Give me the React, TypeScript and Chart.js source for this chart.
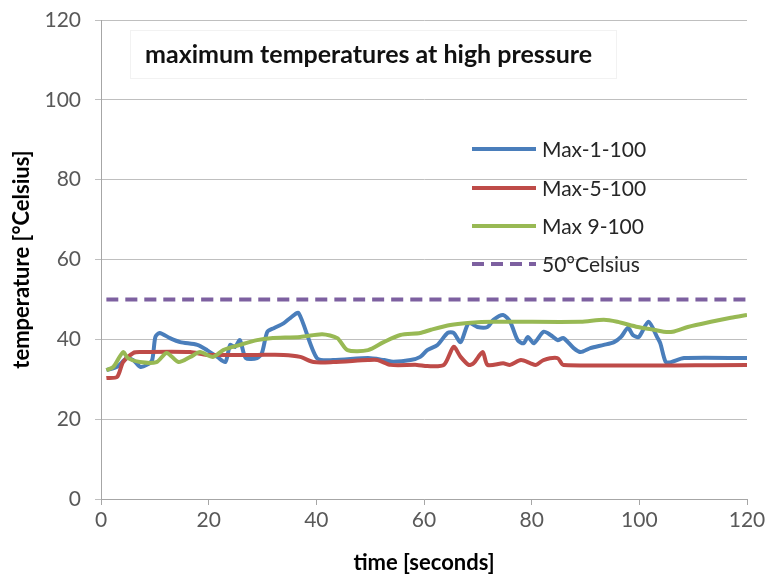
import React, { useEffect, useRef } from "react";
import { Chart, registerables } from "chart.js";

Chart.register(...registerables);

const chartTitle = "maximum temperatures at high pressure";
const xAxisTitle = "time [seconds]";
const yAxisTitle = "temperature [°Celsius]";

const seriesNames = ["Max-1-100", "Max-5-100", "Max 9-100", "50°Celsius"];
const seriesColors = ["#4A7EBB", "#BE4B48", "#98B954", "#7D60A0"];

const max1Time = [1, 3, 4.8, 6, 7.3, 8.5, 9.5, 10.1, 10.9, 12.8, 14.7, 17.9, 19.7, 21.6, 23.1, 24, 24.9, 25.8, 26.9, 29, 29.9, 30.9, 32.1, 33.9, 35.2, 36.7, 40.1, 43.1, 49.6, 52.6, 54.3, 57.5, 59.3, 60.6, 62.5, 64.4, 65.5, 66.8, 68.3, 69.9, 71.8, 72.9, 74.7, 76, 77.4, 78.5, 79.3, 80.4, 82.2, 83.5, 84.8, 85.9, 87.8, 89.1, 90.9, 93.4, 95.3, 96.6, 97.9, 98.8, 99.9, 101.7, 103.4, 103.9, 104.9, 105.9, 108.3, 120];
const max1Temp = [32.3, 33.1, 35.3, 34.8, 33.1, 33.6, 34.8, 40.6, 41.6, 40.3, 39.3, 38.6, 37.3, 35.6, 34.3, 38.6, 38.1, 39.8, 35.3, 35.3, 36.6, 41.9, 42.8, 44, 45.4, 46.6, 35.3, 34.8, 35.3, 34.8, 34.4, 34.8, 35.6, 37.3, 38.6, 41.6, 41.6, 39.3, 44.1, 43.1, 43.1, 44.9, 46.1, 44.4, 39.8, 39, 40.6, 39, 41.9, 41.1, 39.8, 40.3, 37.8, 36.8, 37.8, 38.6, 39.3, 40.6, 42.9, 41.1, 40.6, 44.4, 40.3, 39, 34.3, 34.3, 35.3, 35.3];

const max5Time = [1, 3, 4.1, 6, 7.3, 16.6, 19.7, 29, 33.9, 37, 39.5, 43.1, 49.6, 51.4, 53.8, 58.7, 60.6, 63.7, 65.5, 66.8, 68.3, 69.2, 70.9, 71.8, 74.7, 76, 78, 79.8, 80.8, 82.2, 84.8, 85.9, 120];
const max5Temp = [30.3, 30.6, 34.3, 36.6, 36.8, 36.8, 36.1, 36.1, 36.1, 35.6, 34.3, 34.3, 34.8, 34.8, 33.6, 33.6, 33.3, 33.6, 38.1, 35.6, 33.6, 34, 36.8, 33.6, 34, 33.6, 34.8, 34, 33.6, 34.8, 35.3, 33.6, 33.6];

const max9Time = [1, 2.3, 4.1, 5, 7.2, 10.3, 12.2, 14.4, 16.6, 18.4, 20.8, 22.7, 25.8, 29, 31.5, 37, 41.1, 43.9, 45.8, 49.6, 52.5, 55.6, 59.3, 61.3, 64.9, 68.1, 72.9, 89.1, 93.4, 95.9, 99.7, 102.7, 104.5, 106.2, 109, 113.3, 117, 120];
const max9Temp = [32.3, 33.1, 36.8, 35.3, 34.3, 34.3, 36.6, 34.3, 35.6, 36.8, 35.6, 37.3, 38.6, 39.8, 40.3, 40.6, 41.3, 40.3, 37.3, 37.3, 39.3, 41.1, 41.6, 42.4, 43.6, 44.1, 44.4, 44.4, 44.9, 44.4, 43.1, 42.4, 41.9, 41.9, 43.1, 44.4, 45.4, 46.1];

const refTime = [1, 120];
const refTemp = [50, 50];

const FONT = "Lato, 'Open Sans', sans-serif";

const toPoints = (xs: number[], ys: number[]) => xs.map((x, i) => ({ x, y: ys[i] }));

const overlayPlugin = {
  id: "overlay",
  afterDraw(chart: any) {
    const { ctx, chartArea } = chart;
    ctx.save();
    // title box
    const bx = chartArea.left + 29;
    const by = chartArea.top + 10;
    ctx.fillStyle = "#ffffff";
    ctx.fillRect(bx, by, 486, 48);
    ctx.strokeStyle = "#F2F2F2";
    ctx.lineWidth = 1;
    ctx.strokeRect(bx + 0.5, by + 0.5, 486, 48);
    ctx.fillStyle = "#111111";
    ctx.font = `bold 25px ${FONT}`;
    ctx.textBaseline = "middle";
    ctx.textAlign = "left";
    ctx.fillText(chartTitle, bx + 15, by + 25);

    // legend
    const rows = [129, 168, 206, 244];
    chart.data.datasets.forEach((ds: any, i: number) => {
      const yy = chartArea.top + rows[i];
      const x0 = chartArea.left + 371;
      const x1 = chartArea.left + 435;
      ctx.strokeStyle = ds.borderColor;
      ctx.lineWidth = ds.borderWidth;
      ctx.setLineDash(ds.borderDash || []);
      ctx.beginPath();
      ctx.moveTo(x0, yy);
      ctx.lineTo(x1, yy);
      ctx.stroke();
      ctx.setLineDash([]);
      ctx.fillStyle = "#262626";
      ctx.font = `21px ${FONT}`;
      ctx.fillText(ds.label, x1 + 6, yy + 1);
    });
    ctx.restore();
  },
};

export default function App() {
  const ref = useRef<HTMLCanvasElement>(null);
  useEffect(() => {
    if (!ref.current) return;
    const chart = new Chart(ref.current, {
      type: "line",
      data: {
        datasets: [
          { label: seriesNames[0], data: toPoints(max1Time, max1Temp), borderColor: seriesColors[0], borderWidth: 4, order: 3 },
          { label: seriesNames[1], data: toPoints(max5Time, max5Temp), borderColor: seriesColors[1], borderWidth: 4, order: 2 },
          { label: seriesNames[2], data: toPoints(max9Time, max9Temp), borderColor: seriesColors[2], borderWidth: 4, order: 1 },
          { label: seriesNames[3], data: toPoints(refTime, refTemp), borderColor: seriesColors[3], borderWidth: 4, borderDash: [12, 7], order: 0 },
        ] as any,
      },
      options: {
        animation: false,
        responsive: true,
        maintainAspectRatio: false,
        devicePixelRatio: 1,
        layout: { padding: { top: 20, right: 20, left: 0, bottom: 0 } },
        elements: { point: { radius: 0 }, line: { tension: 0.25 } },
        plugins: { legend: { display: false }, tooltip: { enabled: false } },
        scales: {
          x: {
            type: "linear",
            min: 0,
            max: 120,
            ticks: { stepSize: 20, color: "#595959", font: { family: FONT, size: 21 }, padding: 3, maxRotation: 0 },
            grid: { drawOnChartArea: false, drawTicks: true, tickLength: 6, color: "#A6A6A6" },
            border: { display: true, color: "#A6A6A6", width: 1 },
            title: { display: true, text: xAxisTitle, color: "#000000", font: { family: FONT, size: 22, weight: "bold" }, padding: { top: 0, bottom: 0 } },
            afterFit: (s: any) => { s.height = 77; s.paddingLeft = 0; s.paddingRight = 0; },
          },
          y: {
            min: 0,
            max: 120,
            ticks: { stepSize: 20, color: "#595959", font: { family: FONT, size: 21 }, padding: 14 },
            grid: { drawOnChartArea: true, drawTicks: true, tickLength: 6, color: "#BFBFBF" },
            border: { display: true, color: "#A6A6A6", width: 1 },
            title: { display: true, text: yAxisTitle, color: "#000000", font: { family: FONT, size: 22, weight: "bold" }, padding: { top: 9, bottom: 0 } },
            afterFit: (s: any) => { s.width = 101; s.paddingTop = 0; s.paddingBottom = 0; },
          },
        },
      } as any,
      plugins: [overlayPlugin],
    });
    return () => chart.destroy();
  }, []);
  return (
    <div style={{ position: "absolute", left: 0, top: 0, width: 767, height: 576, background: "#ffffff" }}>
      <canvas ref={ref} />
    </div>
  );
}
